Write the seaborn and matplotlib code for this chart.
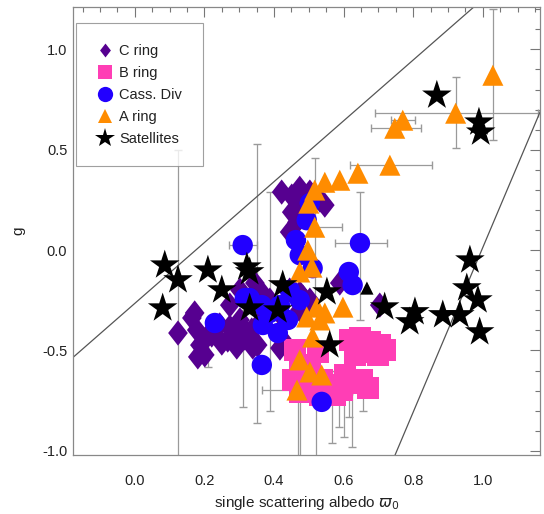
import matplotlib
matplotlib.use('Agg')
import matplotlib.pyplot as plt
from matplotlib.lines import Line2D
from matplotlib.path import Path
from matplotlib.ticker import MultipleLocator
import seaborn as sns
import pandas as pd

# single scattering albedo (w) and asymmetry parameter (g) per group
c_ring_w = [0.422, 0.451, 0.474, 0.503, 0.532, 0.474, 0.451, 0.466, 0.445, 0.463,
            0.546, 0.517,
            0.124, 0.164, 0.178, 0.187, 0.201, 0.221, 0.244, 0.267, 0.287, 0.302,
            0.316, 0.336, 0.353, 0.365, 0.302, 0.417, 0.273, 0.359,
            0.172, 0.181, 0.207, 0.250, 0.273, 0.293, 0.322, 0.339, 0.345, 0.425,
            0.474,
            0.388, 0.431, 0.474, 0.503, 0.445, 0.483, 0.589, 0.704]
c_ring_g = [0.289, 0.269, 0.308, 0.289, 0.249, 0.224, 0.189, 0.139, 0.090, 0.040,
            0.224, 0.269,
            -0.413, -0.338, -0.398, -0.473, -0.522, -0.423, -0.373, -0.448, -0.398, -0.348,
            -0.438, -0.398, -0.473, -0.348, -0.199, -0.488, -0.274, -0.199,
            -0.313, -0.532, -0.433, -0.463, -0.383, -0.483, -0.413, -0.483, -0.164, -0.448,
            -0.214,
            -0.249, -0.348, -0.299, -0.249, -0.199, -0.234, -0.164, -0.274]

b_ring_w = [0.618, 0.647, 0.675, 0.704, 0.718, 0.632, 0.661, 0.698,
            0.460, 0.474, 0.454, 0.474, 0.509, 0.537, 0.566, 0.595, 0.624, 0.652,
            0.670, 0.603, 0.575, 0.532, 0.503, 0.526]
b_ring_g = [-0.448, -0.438, -0.458, -0.473, -0.498, -0.522, -0.507, -0.522,
            -0.498, -0.572, -0.647, -0.706, -0.687, -0.647, -0.672, -0.697, -0.662, -0.647,
            -0.687, -0.622, -0.721, -0.721, -0.572, -0.507]

cass_w = [0.310, 0.230, 0.316, 0.365, 0.368, 0.411, 0.365, 0.440, 0.417, 0.463,
          0.474, 0.494, 0.503, 0.511, 0.647, 0.615, 0.626, 0.537, 0.388, 0.474,
          0.330, 0.445]
cass_g = [0.025, -0.363, -0.239, -0.274, -0.373, -0.413, -0.572, -0.348, -0.274, 0.050,
          -0.025, 0.149, 0.234, -0.090, 0.035, -0.109, -0.174, -0.756, -0.313, -0.249,
          -0.239, -0.199]

a_ring_w = [1.029, 0.922, 0.770, 0.747, 0.733, 0.641, 0.589, 0.546, 0.517, 0.500,
            0.517, 0.497, 0.509, 0.474, 0.598, 0.523, 0.546, 0.494, 0.532, 0.511,
            0.474, 0.503, 0.537, 0.466]
a_ring_g = [0.871, 0.682, 0.647, 0.607, 0.423, 0.383, 0.348, 0.338, 0.299, 0.234,
            0.114, 0.000, -0.085, -0.109, -0.284, -0.284, -0.313, -0.333, -0.348, -0.433,
            -0.547, -0.607, -0.622, -0.697]

sat_w = [0.086, 0.124, 0.080, 0.210, 0.250, 0.322, 0.330, 0.330, 0.425, 0.411,
         0.552, 0.560, 0.718, 0.805, 0.790, 0.885, 0.934, 0.963, 0.954, 0.986,
         0.991, 0.868, 0.989, 0.994]
sat_g = [-0.075, -0.149, -0.289, -0.100, -0.199, -0.085, -0.109, -0.289, -0.174, -0.299,
         -0.209, -0.473, -0.284, -0.308, -0.358, -0.323, -0.323, -0.050, -0.189, -0.249,
         -0.408, 0.771, 0.637, 0.587]

# lone small black triangle
extra_w = [0.667]
extra_g = [-0.189]

# error bars: centre, w range, g range
eb_w = [0.124, 0.350, 0.388, 0.310, 0.210, 0.466, 0.310, 0.647, 1.029, 0.922,
        0.770, 0.747, 0.733, 0.517, 0.468, 0.474, 0.520, 0.566, 0.586, 0.600,
        0.615, 0.624, 0.657]
eb_g = [-0.149, -0.250, -0.310, -0.400, -0.500, -0.697, 0.025, 0.035, 0.871, 0.682,
        0.647, 0.607, 0.423, 0.114, -0.700, -0.700, -0.700, -0.700, -0.690, -0.700,
        -0.680, -0.700, -0.680]
eb_w_lo = [0.124, 0.350, 0.388, 0.310, 0.210, 0.366, 0.270, 0.575, 1.029, 0.690,
           0.735, 0.678, 0.618, 0.511, 0.468, 0.474, 0.520, 0.566, 0.586, 0.600,
           0.615, 0.624, 0.657]
eb_w_hi = [0.124, 0.350, 0.388, 0.310, 0.210, 0.566, 0.350, 0.724, 1.029, 1.160,
           0.805, 0.822, 0.855, 0.595, 0.468, 0.474, 0.520, 0.566, 0.586, 0.600,
           0.615, 0.624, 0.657]
eb_g_lo = [-1.10, -0.86, -0.80, -0.78, -0.58, -0.697, 0.025, -0.35, 0.55, 0.51,
           0.647, 0.607, 0.423, -0.30, -1.10, -1.10, -1.10, -0.96, -0.88, -0.93,
           -0.83, -0.98, -0.80]
eb_g_hi = [0.50, 0.53, 0.29, -0.30, -0.45, -0.697, 0.025, 0.29, 1.20, 0.86,
           0.647, 0.607, 0.423, 0.46, -0.60, -0.60, -0.60, -0.60, -0.60, -0.60,
           -0.60, -0.60, -0.60]

# bounding lines (two points each)
line1_w = [-0.25, 1.00]
line1_g = [-0.644, 1.250]
line2_w = [0.740, 1.200]
line2_g = [-1.053, 0.833]

# tall diamond like the IDL symbol
tall_diamond = Path([(0, 1), (0.78, 0), (0, -1), (-0.78, 0), (0, 1)],
                    [Path.MOVETO, Path.LINETO, Path.LINETO, Path.LINETO, Path.CLOSEPOLY])

groups = ["C ring", "B ring", "Cass. Div", "A ring", "Satellites"]
colors = {"C ring": "#560090", "B ring": "#FF3EB5", "Cass. Div": "#2200FF",
          "A ring": "#FF8C00", "Satellites": "black"}
markers = {"C ring": tall_diamond, "B ring": "s", "Cass. Div": "o", "A ring": "^",
           "Satellites": "*"}
sizes = {"C ring": 330, "B ring": 250, "Cass. Div": 215, "A ring": 230, "Satellites": 500}

df = pd.concat([
    pd.DataFrame({"w": c_ring_w, "g": c_ring_g, "ring": "C ring"}),
    pd.DataFrame({"w": b_ring_w, "g": b_ring_g, "ring": "B ring"}),
    pd.DataFrame({"w": cass_w, "g": cass_g, "ring": "Cass. Div"}),
    pd.DataFrame({"w": a_ring_w, "g": a_ring_g, "ring": "A ring"}),
    pd.DataFrame({"w": sat_w, "g": sat_g, "ring": "Satellites"}),
], ignore_index=True)

sns.set_theme(style="white")
plt.rcParams['font.family'] = ['Liberation Sans', 'DejaVu Sans']
plt.rcParams['axes.unicode_minus'] = False

fig = plt.figure(figsize=(5.44, 5.14), dpi=100)
ax = fig.add_axes([0.134, 0.115, 0.859, 0.871])

# error bars behind everything
for i in range(len(eb_w)):
    ax.errorbar(eb_w[i], eb_g[i],
                xerr=[[eb_w[i] - eb_w_lo[i]], [eb_w_hi[i] - eb_w[i]]],
                yerr=[[eb_g[i] - eb_g_lo[i]], [eb_g_hi[i] - eb_g[i]]],
                fmt='none', ecolor='#9a9a9a', elinewidth=0.9, capsize=3, zorder=1)

ax.plot(line1_w, line1_g, color='#555555', lw=0.9, zorder=1)
ax.plot(line2_w, line2_g, color='#555555', lw=0.9, zorder=1)

for grp in groups:
    sub = df[df["ring"] == grp]
    sns.scatterplot(data=sub, x="w", y="g", marker=markers[grp], color=colors[grp],
                    s=sizes[grp], edgecolor='none', linewidth=0, ax=ax, zorder=3)

sns.scatterplot(x=extra_w, y=extra_g, marker="^", color="black", s=90,
                edgecolor='none', ax=ax, zorder=3)

ax.set_xlim(-0.178, 1.165)
ax.set_ylim(-1.02, 1.21)
ax.xaxis.set_minor_locator(MultipleLocator(0.05))
ax.yaxis.set_major_locator(MultipleLocator(0.5))
ax.yaxis.set_minor_locator(MultipleLocator(0.1))
ax.set_xticks([0.0, 0.2, 0.4, 0.6, 0.8, 1.0])
ax.tick_params(which='both', direction='in', top=True, right=True,
               colors='#777777', labelcolor='#222222', labelsize=10.5)
ax.tick_params(which='major', length=7, width=0.8)
ax.tick_params(which='minor', length=3.5, width=0.8)
ax.tick_params(axis='x', which='major', pad=14)
ax.tick_params(axis='y', which='major', pad=4)
for sp in ax.spines.values():
    sp.set_color('#888888')
    sp.set_linewidth(0.9)

ax.set_xlabel(r"single scattering albedo $\varpi_0$", fontsize=11, color='#222222', labelpad=4)
ax.set_ylabel("g", fontsize=11, color='#222222', labelpad=12)

handles = [Line2D([], [], linestyle='none', marker=markers[g], color=colors[g],
                  markeredgewidth=0,
                  markersize={"C ring": 10, "B ring": 10, "Cass. Div": 11,
                              "A ring": 10, "Satellites": 15}[g])
           for g in groups]
leg = ax.legend(handles, groups, loc='upper left', bbox_to_anchor=(0.006, 0.964),
                fontsize=10.5, frameon=True, fancybox=False, borderpad=1.4,
                labelspacing=0.55, handlelength=1.2, handletextpad=0.4,
                borderaxespad=0)
leg.get_frame().set_edgecolor('#888888')
leg.get_frame().set_linewidth(0.8)
for t in leg.get_texts():
    t.set_color('#222222')

fig.savefig("out.png", dpi=100)
